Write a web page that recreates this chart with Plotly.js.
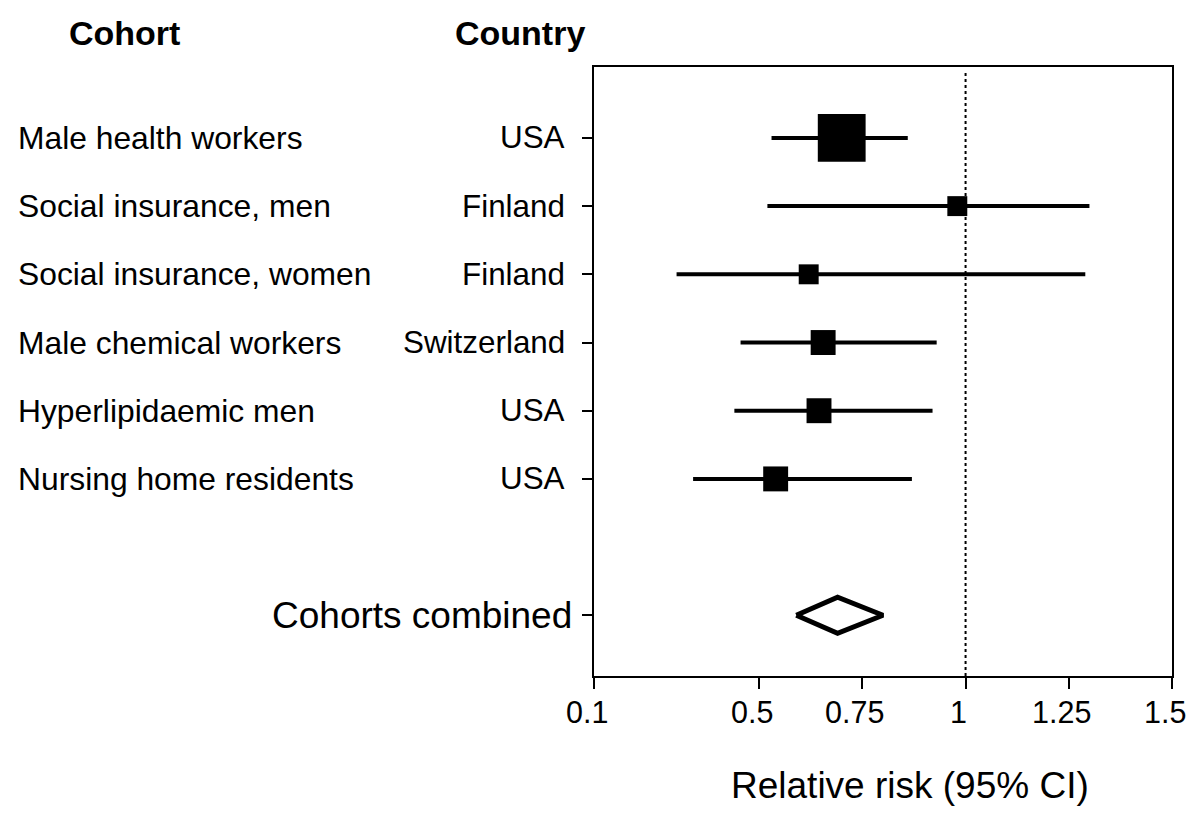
<!DOCTYPE html>
<html>
<head>
<meta charset="utf-8">
<script src="https://cdn.plot.ly/plotly-3.0.1.min.js"></script>
<style>html,body{margin:0;padding:0;background:#fff;}#chart{width:1189px;height:817px;}</style>
</head>
<body>
<div id="chart"></div>
<script>
// ---- data ----
var cohorts = ["Male health workers", "Social insurance, men", "Social insurance, women",
               "Male chemical workers", "Hyperlipidaemic men", "Nursing home residents"];
var countries = ["USA", "Finland", "Finland", "Switzerland", "USA", "USA"];
var rr    = [0.70, 0.98, 0.62, 0.655, 0.645, 0.54];
var lower = [0.53, 0.52, 0.30, 0.455, 0.44, 0.34];
var upper = [0.86, 1.30, 1.29, 0.93, 0.92, 0.87];
var weights = [46, 8, 8, 12.5, 12.5, 12.5];   // relative study weight (%)
var combinedLabel = "Cohorts combined";
var combinedRR = 0.69, combinedLower = 0.59, combinedUpper = 0.80;
var xTickVals = [0.1, 0.5, 0.75, 1, 1.25, 1.5];
var xTickText = ["0.1", "0.5", "0.75", "1", "1.25", "1.5"];
var nullValue = 1;
var xTitle = "Relative risk (95% CI)";
var headerCohort = "Cohort", headerCountry = "Country";

// ---- build ----
var FONT = "Liberation Sans, Arial, Helvetica, sans-serif";
var yIdx = cohorts.map(function (_, i) { return i; });
var yComb = cohorts.length + 1;
var sizeScale = 7.05;

var studies = {
  type: "scatter", mode: "markers",
  x: rr, y: yIdx,
  marker: { symbol: "square", color: "#000", opacity: 1,
            size: weights.map(function (w) { return sizeScale * Math.sqrt(w); }),
            line: { width: 0 } },
  error_x: { type: "data", symmetric: false,
             array: upper.map(function (u, i) { return u - rr[i]; }),
             arrayminus: lower.map(function (l, i) { return rr[i] - l; }),
             color: "#000", thickness: 4, width: 0 },
  hoverinfo: "x+y", showlegend: false
};

var hh = 0.265;
var diamond = {
  type: "scatter", mode: "lines",
  x: [combinedLower, combinedRR, combinedUpper, combinedRR, combinedLower],
  y: [yComb, yComb - hh, yComb, yComb + hh, yComb],
  fill: "toself", fillcolor: "#fff",
  line: { color: "#000", width: 5 },
  showlegend: false, hoverinfo: "skip"
};

var L = 594, R = 17, T = 67, B = 141, W = 1189, H = 817;
var pw = W - L - R, ph = H - T - B;
function px2x(p) { return (p - L) / pw; }
function py2y(p) { return (H - B - p) / ph; }

var annotations = [];
cohorts.forEach(function (c, i) {
  annotations.push({ text: c, xref: "paper", yref: "y", x: px2x(16), y: i,
    xanchor: "left", yanchor: "middle", showarrow: false,
    font: { family: FONT, size: 31.8, color: "#000" } });
  annotations.push({ text: countries[i], xref: "paper", yref: "y", x: px2x(567), y: i,
    xanchor: "right", yanchor: "middle", showarrow: false,
    font: { family: FONT, size: 31.4, color: "#000" } });
});
annotations.push({ text: combinedLabel, xref: "paper", yref: "y", x: px2x(574), y: yComb,
  xanchor: "right", yanchor: "middle", showarrow: false,
  font: { family: FONT, size: 37, color: "#000" } });
annotations.push({ text: "<b>" + headerCohort + "</b>", xref: "paper", yref: "paper",
  x: px2x(124), y: py2y(33), xanchor: "center", yanchor: "middle", showarrow: false,
  font: { family: FONT, size: 34, color: "#000" } });
annotations.push({ text: "<b>" + headerCountry + "</b>", xref: "paper", yref: "paper",
  x: px2x(520), y: py2y(33), xanchor: "center", yanchor: "middle", showarrow: false,
  font: { family: FONT, size: 34, color: "#000" } });
annotations.push({ text: xTitle, xref: "paper", yref: "paper",
  x: px2x(910), y: py2y(785), xanchor: "center", yanchor: "middle", showarrow: false,
  font: { family: FONT, size: 37, color: "#000" } });
// x tick labels (slightly left of their ticks, as in the reference)
xTickVals.forEach(function (v, i) {
  annotations.push({ text: xTickText[i], xref: "x", yref: "paper", x: v, y: py2y(712),
    xshift: -7.5, xanchor: "center", yanchor: "middle", showarrow: false,
    font: { family: FONT, size: 30.5, color: "#000" } });
});

var layout = {
  width: W, height: H,
  margin: { l: L, r: R, t: T, b: B, pad: 0 },
  paper_bgcolor: "#fff", plot_bgcolor: "#fff",
  font: { family: FONT, color: "#000" },
  xaxis: {
    range: [0.1, 1.5], tickmode: "array", tickvals: xTickVals, ticktext: xTickText,
    ticks: "outside", ticklen: 11, tickwidth: 2, tickcolor: "#000",
    showline: true, linecolor: "#000", linewidth: 2, mirror: true,
    showgrid: false, zeroline: false, showticklabels: false
  },
  yaxis: {
    range: [7.89, -1.04], tickmode: "array",
    tickvals: yIdx.concat([yComb]), ticktext: yIdx.concat([yComb]).map(function () { return ""; }),
    ticks: "outside", ticklen: 10, tickwidth: 2, tickcolor: "#000",
    showline: true, linecolor: "#000", linewidth: 2, mirror: true,
    showgrid: false, zeroline: false, showticklabels: false
  },
  shapes: [{ type: "line", xref: "x", yref: "paper", x0: nullValue, x1: nullValue,
             y0: 0, y1: 0.99, line: { color: "#000", width: 2, dash: "dot" }, layer: "below" }],
  annotations: annotations,
  showlegend: false
};

Plotly.newPlot("chart", [studies, diamond], layout, { displayModeBar: false, staticPlot: true });
</script>
</body>
</html>
